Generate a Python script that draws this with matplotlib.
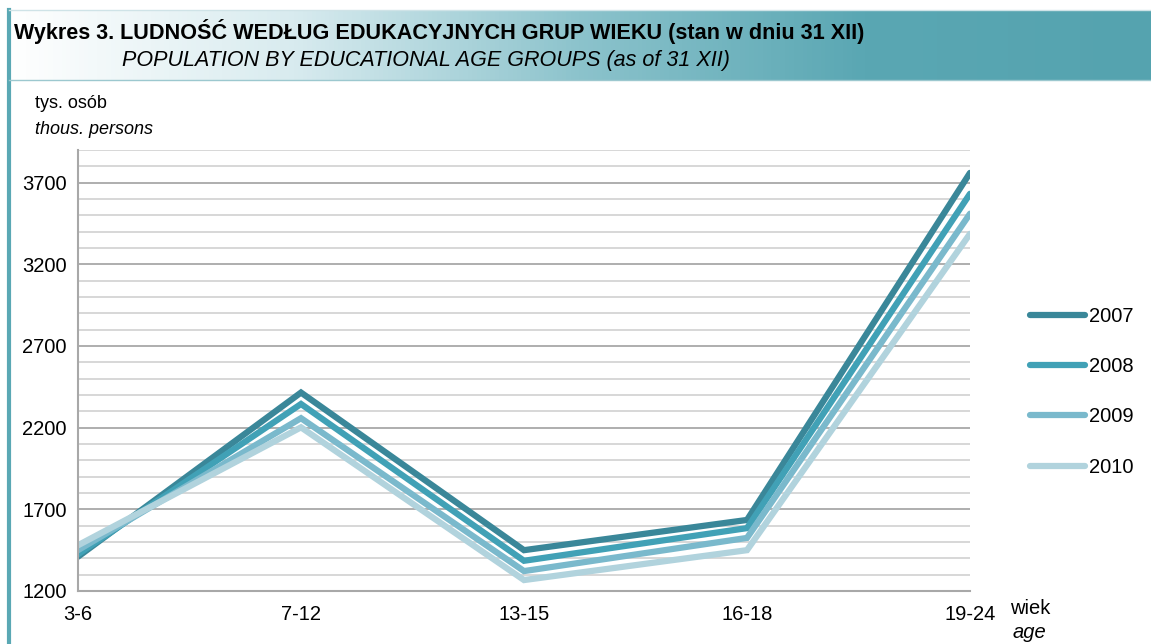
import numpy as np
import matplotlib
matplotlib.use("Agg")
import matplotlib.pyplot as plt
from matplotlib.colors import LinearSegmentedColormap

groups = ["3-6", "7-12", "13-15", "16-18", "19-24"]
years = ["2007", "2008", "2009", "2010"]
v2007 = [1410, 2415, 1450, 1635, 3760]
v2008 = [1425, 2345, 1385, 1585, 3632]
v2009 = [1450, 2258, 1322, 1525, 3510]
v2010 = [1480, 2202, 1267, 1450, 3387]
series = [v2007, v2008, v2009, v2010]
colors = ["#3a8799", "#41a1b6", "#7ab9cc", "#b1d3dd"]

plt.rcParams["font.family"] = ["Liberation Sans", "DejaVu Sans"]

W, H = 1151, 644
fig = plt.figure(figsize=(W / 100, H / 100), dpi=100)

# title banner with gradient
bax = fig.add_axes([8 / W, 1 - 80 / H, 1 - 8 / W, 70 / H])
grad = np.linspace(0, 1, 256).reshape(1, -1)
cmap = LinearSegmentedColormap.from_list("b", ["#ffffff", "#d8ebef", "#8cc3cc", "#5aa7b3", "#55a3af"])
bax.imshow(grad, aspect="auto", cmap=cmap, extent=[0, 1, 0, 1])
bax.set_xlim(0, 1)
bax.set_ylim(0, 1)
bax.axis("off")

# frame lines
fig.add_artist(plt.Line2D([9 / W, 9 / W], [0, 1 - 10 / H], transform=fig.transFigure,
                          color="#5aa8b4", lw=3))
fig.add_artist(plt.Line2D([9 / W, 1], [1 - 10 / H, 1 - 10 / H], transform=fig.transFigure,
                          color="#cfe3e7", lw=1))
fig.add_artist(plt.Line2D([9 / W, 1], [1 - 80 / H, 1 - 80 / H], transform=fig.transFigure,
                          color="#9cc8cf", lw=1))

t1 = fig.text(14 / W, 1 - 39 / H, "Wykres 3. ", fontsize=15.5, fontweight="bold", va="baseline", ha="left")
fig.canvas.draw()
bb = t1.get_window_extent()
fig.text(bb.x1 / W, 1 - 39 / H, "LUDNOŚĆ WEDŁUG EDUKACYJNYCH GRUP WIEKU (stan w dniu 31 XII)",
         fontsize=15.6, fontweight="bold", va="baseline", ha="left")
fig.text(122 / W, 1 - 66 / H, "POPULATION BY EDUCATIONAL AGE GROUPS (as of 31 XII)",
         fontsize=15.5, style="italic", va="baseline", ha="left")

fig.text(35 / W, 1 - 103 / H, "tys. osób", fontsize=13, va="center", ha="left")
fig.text(35 / W, 1 - 130 / H, "thous. persons", fontsize=13, style="italic", va="center", ha="left")

ax = fig.add_axes([78 / W, 1 - 591 / H, (970 - 78) / W, (591 - 150) / H])
x = np.arange(len(groups))
for vals, c, lab in zip(series, colors, years):
    ax.plot(x, vals, color=c, lw=4.5, label=lab, solid_capstyle="round", solid_joinstyle="miter")

ax.set_xlim(0, len(groups) - 1)
ax.set_ylim(1200, 3900)
for yv in range(1300, 3901, 100):
    ax.axhline(yv, color="#a8a8a8" if (yv - 1200) % 500 == 0 else "#d4d4d4", lw=1.3, zorder=0)
ax.set_yticks(range(1200, 3701, 500))
ax.set_xticks(x)
ax.set_xticklabels(groups)
ax.tick_params(length=0, labelsize=14.5)
ax.tick_params(axis="x", pad=10)
ax.tick_params(axis="y", pad=8)
for s in ["top", "right"]:
    ax.spines[s].set_visible(False)
for s in ["left", "bottom"]:
    ax.spines[s].set_color("#a8a8a8")
    ax.spines[s].set_linewidth(1.5)

fig.text(1010 / W, 1 - 609 / H, "wiek", fontsize=14.5, va="center", ha="left")
fig.text(1013 / W, 1 - 632 / H, "age", fontsize=14.5, style="italic", va="center", ha="left")

ax.legend(loc="upper left", bbox_to_anchor=(1030 / W, 1 - 307 / H), bbox_transform=fig.transFigure,
          frameon=False, fontsize=14.5, handlelength=2.75, handletextpad=0.2, labelspacing=1.55,
          borderpad=0, borderaxespad=0)

fig.savefig("out.png", dpi=100)
